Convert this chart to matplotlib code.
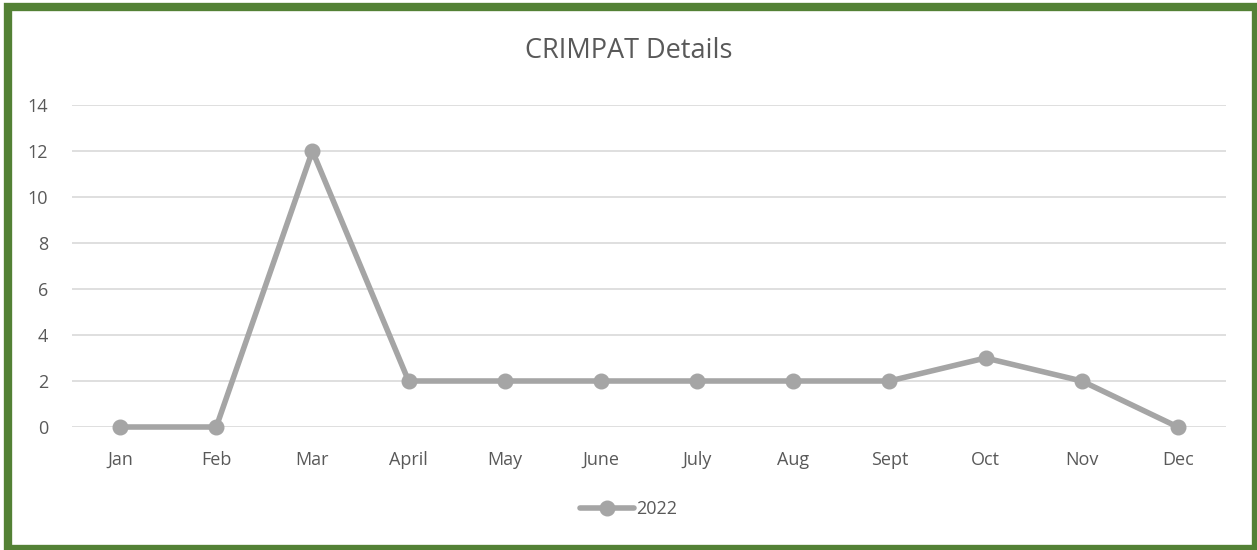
import matplotlib.pyplot as plt
from matplotlib.patches import Rectangle

months = ["Jan", "Feb", "Mar", "April", "May", "June", "July", "Aug", "Sept", "Oct", "Nov", "Dec"]
counts_2022 = [0, 0, 12, 2, 2, 2, 2, 2, 2, 3, 2, 0]
yticks = [0, 2, 4, 6, 8, 10, 12, 14]

plt.rcParams['font.family'] = ['Open Sans', 'DejaVu Sans']
txt = '#595959'
grey = '#a5a5a5'

fig = plt.figure(figsize=(12.57, 5.5), dpi=100)
ax = fig.add_axes([72 / 1257, 1 - 427 / 550, (1226 - 72) / 1257, (427 - 105) / 550])

x = range(len(months))
ax.plot(x, counts_2022, color=grey, lw=4, marker='o', ms=10.5, clip_on=False,
        zorder=3, label='2022', solid_capstyle='round')

ax.set_xlim(-0.5, len(months) - 0.5)
ax.set_ylim(0, 14)
ax.set_yticks(yticks)
ax.set_xticks(list(x))
ax.set_xticklabels(months)
ax.yaxis.grid(True, color='#d9d9d9', lw=1.2)
ax.set_axisbelow(True)
for s in ax.spines.values():
    s.set_visible(False)
ax.tick_params(length=0, colors=txt, labelsize=13)
ax.tick_params(axis='y', pad=17)
ax.tick_params(axis='x', pad=17)

fig.text(0.5, 1 - 51 / 550, 'CRIMPAT Details', ha='center', va='center', fontsize=19.5, color=txt)

leg = fig.legend(loc='center', bbox_to_anchor=(0.5, 1 - 509 / 550), frameon=False,
                 fontsize=13, handlelength=3.0, handletextpad=0.15, labelcolor=txt)

# green frame round the chart
fig.patches.append(Rectangle((8 / 1257, 1 / 550), 1248 / 1257, 542 / 550, transform=fig.transFigure,
                             fill=False, edgecolor='#538135', lw=6, zorder=10))

fig.savefig('out.png', dpi=100)
